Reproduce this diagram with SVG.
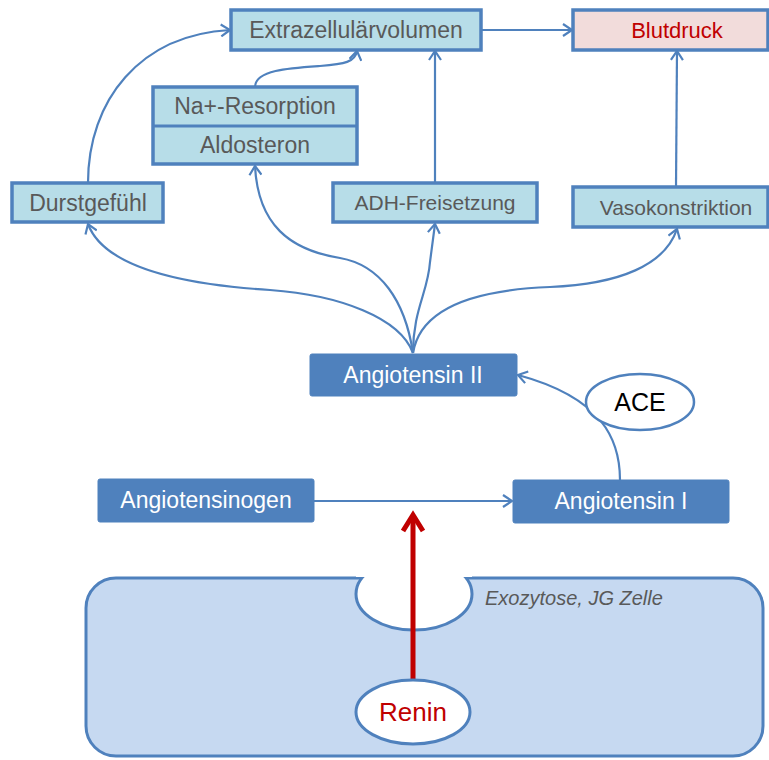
<svg xmlns="http://www.w3.org/2000/svg" width="769" height="760" viewBox="0 0 769 760">
<defs>
<style>
.lb{fill:#B7DDE8;stroke:#4F81BD;stroke-width:3.5}
.db{fill:#4F81BD;stroke:#4F81BD;stroke-width:1}
.tg{font-family:"Liberation Sans",Arial,sans-serif;font-size:23px;fill:#595959;text-anchor:middle}
.tc{font-family:"Liberation Sans",Arial,sans-serif;font-size:21px;fill:#595959;text-anchor:middle}
.tw{font-family:"Liberation Sans",Arial,sans-serif;font-size:23px;fill:#FFFFFF;text-anchor:middle}
.c{fill:none;stroke:#4F81BD;stroke-width:2.2;marker-end:url(#ah)}
</style>
<marker id="ah" viewBox="0 0 12 14" refX="10" refY="7" markerWidth="12" markerHeight="14" markerUnits="userSpaceOnUse" orient="auto">
<path d="M1,1 L10,7 L1,13" fill="none" stroke="#4F81BD" stroke-width="2.2"/>
</marker>
</defs>
<rect width="769" height="760" fill="#FFFFFF"/>

<g id="cell">
<rect x="86" y="578" width="677" height="178" rx="30" fill="#C6D9F1" stroke="#4F81BD" stroke-width="3"/>
<ellipse cx="414" cy="594" rx="58" ry="36" fill="#FFFFFF" stroke="#4F81BD" stroke-width="3"/>
<rect x="356" y="556" width="116" height="21" fill="#FFFFFF"/>
<text x="485" y="605" font-family="'Liberation Sans',Arial,sans-serif" font-size="20" font-style="italic" fill="#595959">Exozytose, JG Zelle</text>
</g>

<g id="connectors">
<path class="c" d="M481,30 L572,30"/>
<path class="c" d="M435,183 L435,51"/>
<path class="c" d="M676,187 L677,51"/>
<path class="c" d="M88,183 C88,100 140,35 230,30"/>
<path class="c" d="M255,87 C255,70 290,68 320,66 C345,64 355,62 357,51"/>
<path class="c" d="M413,353 C400,318 340,295 270,290 C190,285 105,270 88,224"/>
<path class="c" d="M413,353 C405,300 380,265 340,258 C290,250 258,225 255,166"/>
<path class="c" d="M413,353 C413,310 428,292 430,262 L435,224"/>
<path class="c" d="M413,353 C420,310 470,290 550,287 C620,284 665,265 677,229"/>
<path class="c" d="M620,480 C620,440 603,398 518,375"/>
<path class="c" d="M314,501 L512,501"/>
<path d="M413,680 L413,516" fill="none" stroke="#C00000" stroke-width="5"/>
<path d="M403,531 L413,515 L423,531" fill="none" stroke="#C00000" stroke-width="5" stroke-linejoin="miter"/>
</g>

<g id="extrazellularvolumen">
<rect class="lb" x="231" y="10" width="250" height="40"/>
<text class="tg" x="356" y="38">Extrazellulärvolumen</text>
</g>
<g id="blutdruck">
<rect x="573" y="10" width="195" height="40" fill="#F2DCDB" stroke="#4F81BD" stroke-width="3.5"/>
<text x="677" y="38" font-family="'Liberation Sans',Arial,sans-serif" font-size="22" fill="#C00000" text-anchor="middle">Blutdruck</text>
</g>
<g id="na-resorption">
<rect class="lb" x="153" y="87" width="204" height="77"/>
<line x1="153" y1="126" x2="357" y2="126" stroke="#4F81BD" stroke-width="3"/>
<text class="tg" x="255" y="114">Na+-Resorption</text>
<text class="tg" x="255" y="153">Aldosteron</text>
</g>
<g id="durstgefuehl">
<rect class="lb" x="12" y="183" width="151" height="39"/>
<text class="tg" x="88" y="211">Durstgefühl</text>
</g>
<g id="adh">
<rect class="lb" x="333" y="183" width="204" height="39"/>
<text class="tc" x="435" y="210">ADH-Freisetzung</text>
</g>
<g id="vasokonstriktion">
<rect class="lb" x="573" y="187" width="195" height="40"/>
<text class="tc" x="676" y="215">Vasokonstriktion</text>
</g>
<g id="angiotensin2">
<rect class="db" x="310" y="354" width="207" height="42" rx="2"/>
<text class="tw" x="413" y="383">Angiotensin II</text>
</g>
<g id="ace">
<ellipse cx="640" cy="402" rx="54" ry="28" fill="#FFFFFF" stroke="#4F81BD" stroke-width="2.5"/>
<text x="640" y="411" font-family="'Liberation Sans',Arial,sans-serif" font-size="25" fill="#000000" text-anchor="middle">ACE</text>
</g>
<g id="angiotensinogen">
<rect class="db" x="98" y="479" width="216" height="43" rx="2"/>
<text class="tw" x="206" y="508">Angiotensinogen</text>
</g>
<g id="angiotensin1">
<rect class="db" x="513" y="480" width="216" height="43" rx="2"/>
<text class="tw" x="621" y="509">Angiotensin I</text>
</g>
<g id="renin">
<ellipse cx="413" cy="712" rx="57" ry="32" fill="#FFFFFF" stroke="#4F81BD" stroke-width="3"/>
<text x="413" y="721" font-family="'Liberation Sans',Arial,sans-serif" font-size="26" fill="#C00000" text-anchor="middle">Renin</text>
</g>
</svg>
